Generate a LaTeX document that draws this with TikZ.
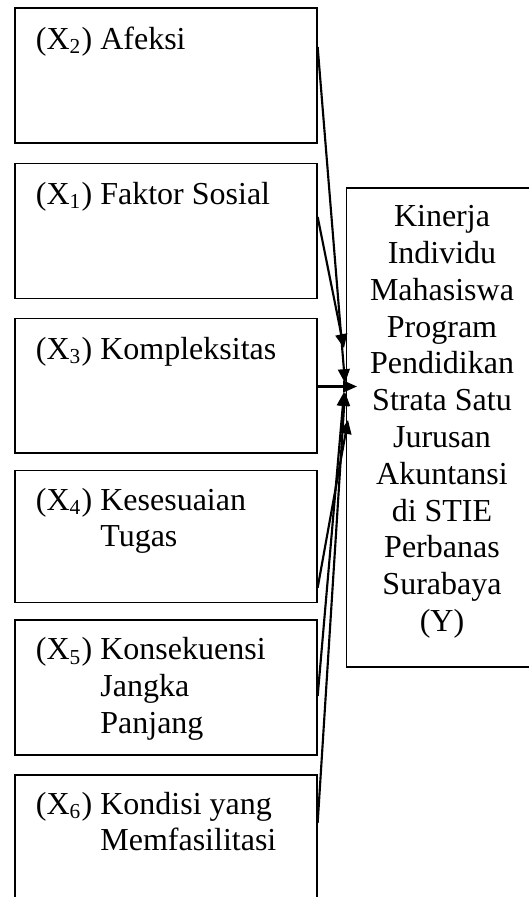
\documentclass[tikz,border=0pt]{standalone}
\usepackage{fontspec}
\setmainfont{Liberation Serif}
\usetikzlibrary{calc,arrows.meta}
\tikzset{
  box/.style={draw, line width=0.6pt, rectangle, inner sep=0pt, minimum width=113.2pt, minimum height=50.6pt, anchor=north west},
  lbl/.style={inner sep=0pt, anchor=base west, font=\fontsize{12}{13.8}\selectfont},
  ylbl/.style={inner sep=0pt, anchor=base, font=\fontsize{12}{13.8}\selectfont},
  conn/.style={line width=0.8pt, -{Triangle[length=5.2pt,width=4.4pt]}}
}
\begin{document}
\begin{tikzpicture}[x=0.375pt,y=-0.375pt]
\useasboundingbox (0,0) rectangle (529,897);
\clip (0,0) rectangle (529,897);
% left boxes
\node[box] (b2) at (14.2,7) {};
\node[box] (b1) at (14.2,162.6) {};
\node[box] (b3) at (14.2,317.5) {};
\node[box, minimum height=49.5pt] (b4) at (14.2,469.7) {};
\node[box] (b5) at (14.2,619) {};
\node[box, minimum height=60pt] (b6) at (14.2,774.4) {};
% right box
\node[draw, line width=0.6pt, rectangle, inner sep=0pt, anchor=north west, minimum width=72.2pt, minimum height=179.6pt] (y) at (345.5,187) {};
% texts
\node[lbl] (t2) at (35.4,49) {(X\textsubscript{2}) Afeksi};
\node[lbl] (t1) at (35.4,204) {(X\textsubscript{1}) Faktor Sosial};
\node[lbl] (t3) at (35.4,359) {(X\textsubscript{3}) Kompleksitas};
\node[lbl] (t4) at (35.4,510) {\begin{tabular}[t]{@{}l@{\ }l@{}}(X\textsubscript{4}) & Kesesuaian\\ & Tugas\end{tabular}};
\node[lbl] (t5) at (35.4,659.7) {\begin{tabular}[t]{@{}l@{\ }l@{}}(X\textsubscript{5}) & Konsekuensi\\ & Jangka\\ & Panjang\end{tabular}};
\node[lbl] (t6) at (35.4,814) {\begin{tabular}[t]{@{}l@{\ }l@{}}(X\textsubscript{6}) & Kondisi yang\\ & Memfasilitasi\end{tabular}};
\node[ylbl] (ty) at (442,226.7) {\begin{tabular}[t]{@{}c@{}}Kinerja\\Individu\\Mahasiswa\\Program\\Pendidikan\\Strata Satu\\Jurusan\\Akuntansi\\di STIE\\Perbanas\\Surabaya\\(Y)\end{tabular}};
% connector ends
\coordinate (s2) at ($(b2.north east)+(0,40)$);
\coordinate (s1) at ($(b1.north east)+(0,54.4)$);
\coordinate (s3) at ($(b3.north east)+(0,69)$);
\coordinate (s4) at ($(b4.north east)+(0,118)$);
\coordinate (s5) at ($(b5.north east)+(0,77)$);
\coordinate (s6) at ($(b6.north east)+(0,48.3)$);
\coordinate (e2) at (345,383);
\coordinate (e1) at (344,348);
\coordinate (e3) at (357,386.5);
\coordinate (e4) at (348,420);
\coordinate (e5) at (344,392);
\coordinate (e6) at (345,392);
\draw[conn] (s2) -- (e2);
\draw[conn] (s1) -- (e1);
\draw[conn] (s3) -- (e3);
\draw[conn] (s4) -- (e4);
\draw[conn] (s5) -- (e5);
\draw[conn] (s6) -- (e6);
\end{tikzpicture}
\end{document}
